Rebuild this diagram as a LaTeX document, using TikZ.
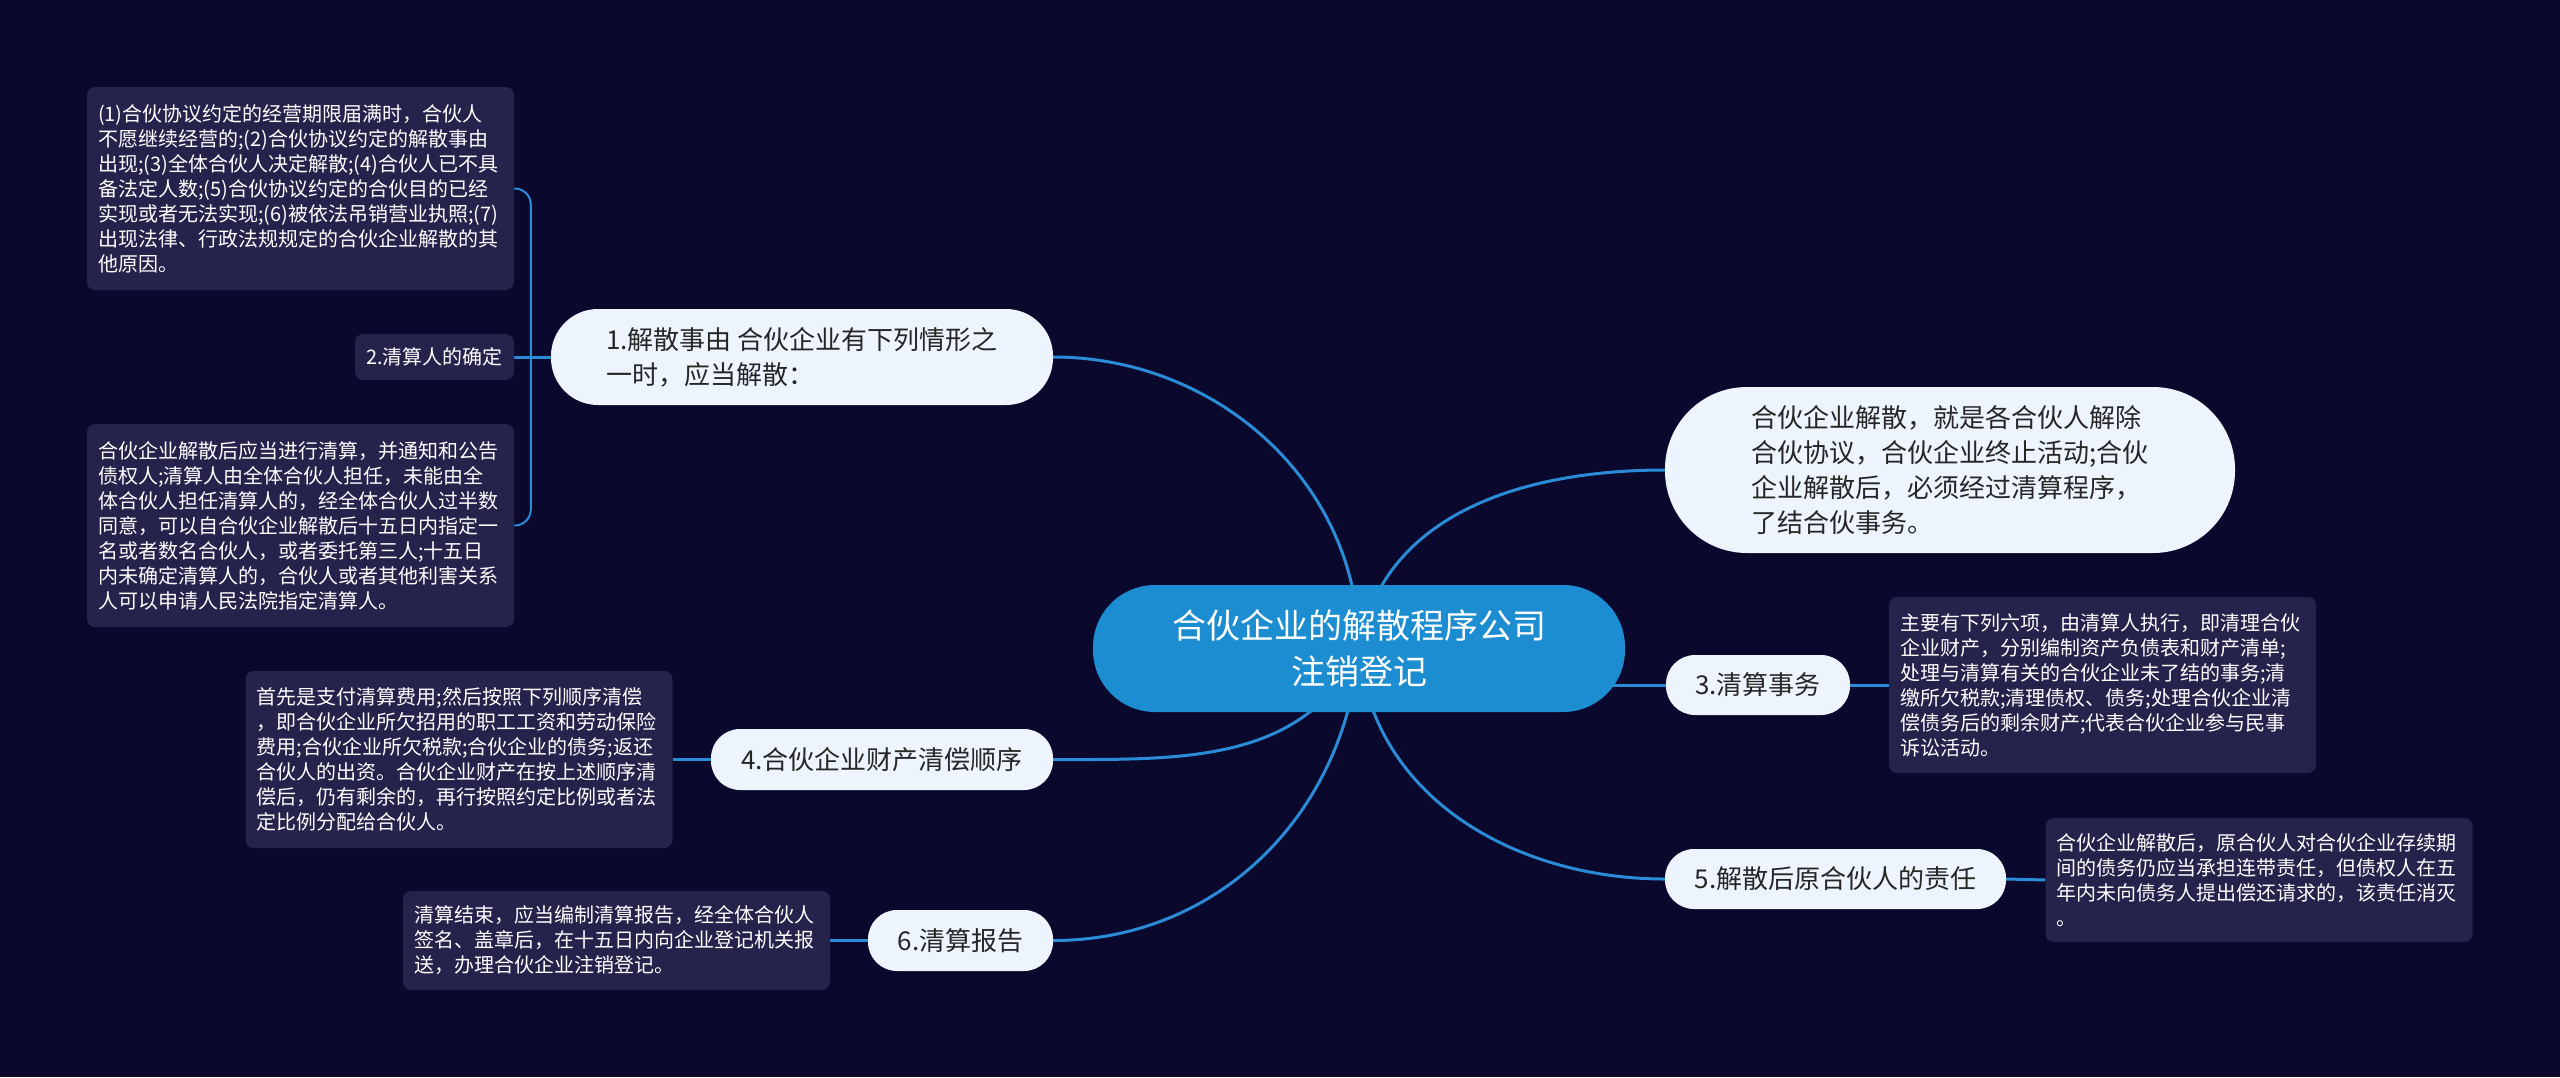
\documentclass[tikz,border=0pt]{standalone}
\usepackage{fontspec}
\setmainfont{Noto Sans CJK SC}
\usepackage{xcolor}
\usepackage{tikz}
\definecolor{canvasbg}{HTML}{0A082D}
\definecolor{primary}{HTML}{1C8DD0}
\definecolor{branch}{HTML}{2A8BD6}
\definecolor{pillfill}{HTML}{EEF4FE}
\definecolor{notefill}{HTML}{25224B}
\definecolor{dark}{HTML}{262626}
\pgfdeclarelayer{canvas}
\pgfdeclarelayer{edges}
\pgfsetlayers{canvas,edges,main}

\begin{document}
\begin{tikzpicture}[
    x=1pt, y=1pt,
    core/.style={rectangle, rounded corners=62pt, fill=primary, text=white, font=\fontsize{34}{46}\selectfont, align=center, minimum width=532pt, minimum height=127pt, inner sep=0pt},
    topic/.style={rectangle, rounded corners=29pt, fill=pillfill, text=dark, font=\fontsize{26}{35}\selectfont, align=left, minimum height=60pt, inner sep=0pt},
    tag/.style={rectangle, rounded corners=8pt, fill=notefill, text=white, font=\fontsize{20}{25}\selectfont, align=left, inner xsep=11pt, inner ysep=12pt},
    detail/.style={tag, text width=405pt},
    link/.style={draw=branch, line width=3pt},
    fork/.style={draw=branch, line width=2pt, rounded corners=16pt}
]
    \begin{pgfonlayer}{canvas}
        \fill[canvasbg] (0,0) rectangle (2560,-1077);
    \end{pgfonlayer}

    % Root
    \node[core] (root) at (1359,-648.5) {合伙企业的解散程序公司\\注销登记};

    % Left side
    \node[topic, minimum width=502pt, minimum height=96pt, rounded corners=47pt] (cause) at (802,-357) {1.解散事由 合伙企业有下列情形之\\一时，应当解散：};
    \node[detail, minimum height=203pt] (causeinfo) at (300.5,-188.5) {(1)合伙协议约定的经营期限届满时，合伙人\\不愿继续经营的;(2)合伙协议约定的解散事由\\出现;(3)全体合伙人决定解散;(4)合伙人已不具\\备法定人数;(5)合伙协议约定的合伙目的已经\\实现或者无法实现;(6)被依法吊销营业执照;(7)\\出现法律、行政法规规定的合伙企业解散的其\\他原因。};
    \node[tag, minimum width=159pt, minimum height=46pt, inner sep=0pt, align=center] (liquidator) at (434.5,-357) {2.清算人的确定};
    \node[detail, minimum height=203pt] (liqinfo) at (300.5,-525.5) {合伙企业解散后应当进行清算，并通知和公告\\债权人;清算人由全体合伙人担任，未能由全\\体合伙人担任清算人的，经全体合伙人过半数\\同意，可以自合伙企业解散后十五日内指定一\\名或者数名合伙人，或者委托第三人;十五日\\内未确定清算人的，合伙人或者其他利害关系\\人可以申请人民法院指定清算人。};

    \node[topic, minimum width=342pt, minimum height=61pt, align=center] (order) at (882,-759.5) {4.合伙企业财产清偿顺序};
    \node[detail, minimum height=177pt] (orderinfo) at (459,-759.5) {首先是支付清算费用;然后按照下列顺序清偿\\，即合伙企业所欠招用的职工工资和劳动保险\\费用;合伙企业所欠税款;合伙企业的债务;返还\\合伙人的出资。合伙企业财产在按上述顺序清\\偿后，仍有剩余的，再行按照约定比例或者法\\定比例分配给合伙人。};

    \node[topic, minimum width=185pt, minimum height=61pt, align=center] (report) at (960.5,-940.5) {6.清算报告};
    \node[detail, minimum height=99pt] (reportinfo) at (616.5,-940.5) {清算结束，应当编制清算报告，经全体合伙人\\签名、盖章后，在十五日内向企业登记机关报\\送，办理合伙企业注销登记。};

    % Right side
    \node[topic, minimum width=570pt, minimum height=166pt, rounded corners=82pt] (intro) at (1950,-470) {合伙企业解散，就是各合伙人解除\\合伙协议，合伙企业终止活动;合伙\\企业解散后，必须经过清算程序，\\了结合伙事务。};

    \node[topic, minimum width=184pt, align=center] (affairs) at (1758,-685) {3.清算事务};
    \node[detail, minimum height=176pt] (affinfo) at (2102.5,-685) {主要有下列六项，由清算人执行，即清理合伙\\企业财产，分别编制资产负债表和财产清单;\\处理与清算有关的合伙企业未了结的事务;清\\缴所欠税款;清理债权、债务;处理合伙企业清\\偿债务后的剩余财产;代表合伙企业参与民事\\诉讼活动。};

    \node[topic, minimum width=341pt, align=center] (duty) at (1835.5,-879) {5.解散后原合伙人的责任};
    \node[detail, minimum height=124pt] (dutyinfo) at (2259,-880) {合伙企业解散后，原合伙人对合伙企业存续期\\间的债务仍应当承担连带责任，但债权人在五\\年内未向债务人提出偿还请求的，该责任消灭\\。};

    \begin{pgfonlayer}{edges}
        \draw[link] (root.center) to[out=90,in=0] (cause.east);
        \draw[link] (root.center) to[out=80,in=180] (intro.west);
        \draw[link] (root.center |- affairs.west) -- (affairs.west);
        \draw[link] (root.center) to[out=-115,in=0] (order.east);
        \draw[link] (root.center) to[out=-95,in=0] (report.east);
        \draw[link] (root.center) to[out=-85,in=180] (duty.west);

        \path (cause.west) ++(-20,0) coordinate (split);
        \draw[link] (cause.west) -- (liquidator.east);
        \draw[fork] (split) |- (causeinfo.east);
        \draw[fork] (split) |- (liqinfo.east);

        \draw[link] (order.west) -- (orderinfo.east);
        \draw[link] (report.west) -- (reportinfo.east);
        \draw[link] (affairs.east) -- (affinfo.west);
        \draw[link] (duty.east) -- (dutyinfo.west);
    \end{pgfonlayer}
\end{tikzpicture}
\end{document}
